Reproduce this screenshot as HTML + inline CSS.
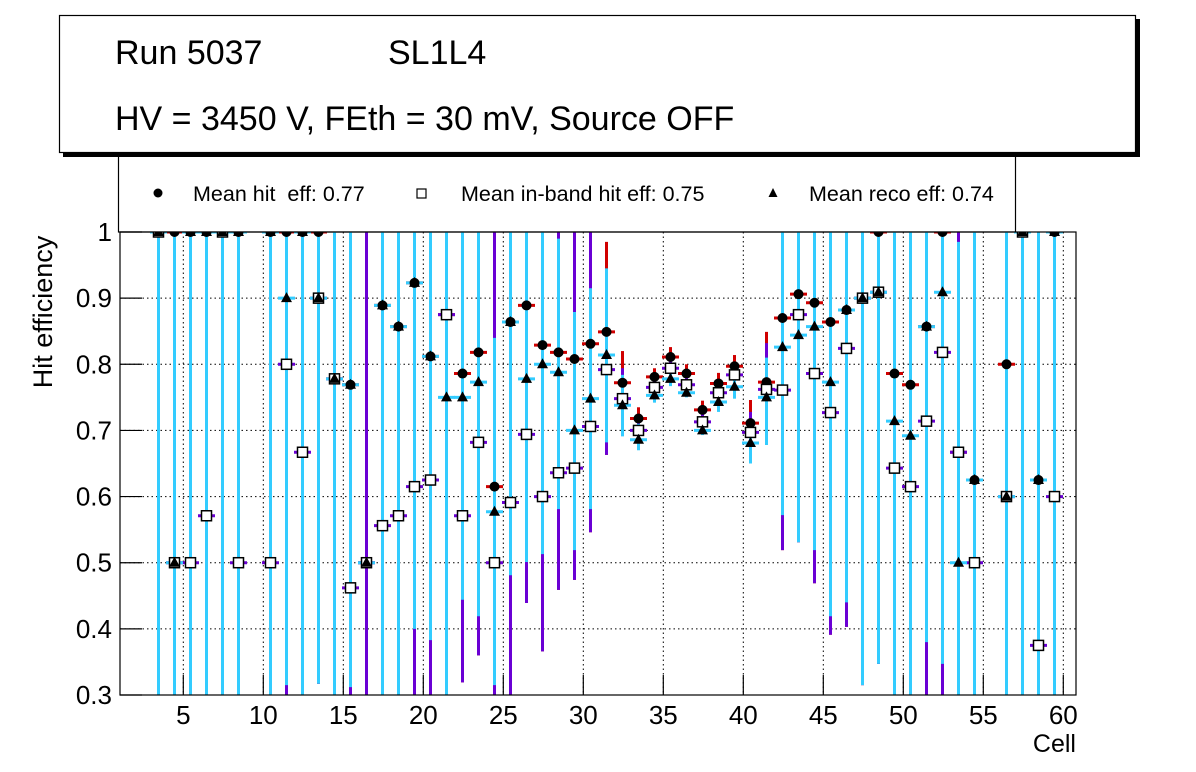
<!DOCTYPE html>
<html><head><meta charset="utf-8"><style>
html,body{margin:0;padding:0;background:#fff;}
svg{display:block;font-family:"Liberation Sans",sans-serif;}
</style></head><body>
<svg id="chart" width="1196" height="772" viewBox="0 0 1196 772" xmlns="http://www.w3.org/2000/svg">
<defs><clipPath id="plotclip"><rect x="120" y="232" width="956" height="463"/></clipPath></defs>
<rect x="0" y="0" width="1196" height="772" fill="#fff"/>
<g id="grid"></g>
<g id="legendbox">
  <rect x="118.5" y="150" width="897" height="82" fill="#fff" stroke="#000" stroke-width="1.2"/>
  <circle cx="158" cy="193" r="4.5" fill="#000"/>
  <text x="193" y="201" font-size="21.5" xml:space="preserve">Mean hit&#160; eff: 0.77</text>
  <rect x="417" y="189" width="9" height="9" fill="#fff" stroke="#000" stroke-width="1.2"/>
  <text x="461" y="201" font-size="21.5">Mean in-band hit eff: 0.75</text>
  <polygon points="773,188 777.5,197 768.5,197" fill="#000"/>
  <text x="809" y="201" font-size="21.5">Mean reco eff: 0.74</text>
</g>
<g id="header">
  <rect x="63" y="19" width="1077" height="138" fill="#000"/>
  <rect x="59.5" y="15.5" width="1076" height="137" fill="#fff" stroke="#000" stroke-width="1.2"/>
  <text x="115" y="64" font-size="34">Run 5037</text>
  <text x="388" y="64" font-size="34">SL1L4</text>
  <text x="115" y="130" font-size="34">HV = 3450 V, FEth = 30 mV, Source OFF</text>
</g>
<g id="bars" clip-path="url(#plotclip)"></g>
<g id="marks" clip-path="url(#plotclip)"></g>
<g id="axes"></g>
<text x="52" y="312" font-size="27" text-anchor="middle" transform="rotate(-90 52 312)">Hit efficiency</text>
<text x="1076" y="752" font-size="25" text-anchor="end">Cell</text>
</svg>
<script>
const cells=[3,4,5,6,7,8,10,11,12,13,14,15,16,17,18,19,20,21,22,23,24,25,26,27,28,29,30,31,32,33,34,35,36,37,38,39,40,41,42,43,44,45,46,47,48,49,50,51,52,53,54,56,57,58,59];
const hitEff=[1,1,1,1,1,1,1,1,1,1,.778,.769,.5,.889,.857,.923,.812,.875,.786,.818,.615,.864,.889,.829,.818,.808,.831,.849,.772,.718,.781,.811,.786,.731,.771,.797,.711,.773,.87,.906,.893,.864,.882,.9,1,.786,.769,.857,1,.667,.625,.8,1,.625,1];
const inbandEff=[1,.5,.5,.571,1,.5,.5,.8,.667,.9,.778,.462,.5,.556,.571,.615,.625,.875,.571,.682,.5,.591,.694,.6,.636,.643,.706,.792,.748,.7,.765,.794,.769,.713,.757,.784,.697,.762,.761,.875,.786,.727,.824,.9,.909,.643,.615,.714,.818,.667,.5,.6,1,.375,.6];
const recoEff=[1,.5,1,1,1,1,1,.9,1,.9,.778,.769,.5,.889,.857,.923,.812,.75,.75,.773,.577,.864,.778,.8,.788,.7,.748,.814,.738,.686,.753,.778,.757,.7,.743,.766,.681,.75,.826,.844,.857,.773,.882,.9,.909,.714,.692,.857,.909,.5,.625,.6,1,.625,1];
const hitLo=[.3,.3,.3,.3,.3,.3,.3,.3,.3,.317,.3,.3,.3,.3,.3,.3,.3,.3,.319,.36,.3,.3,.439,.366,.459,.474,.546,.663,.75,.70,.765,.79,.77,.715,.755,.78,.69,.74,.519,.531,.469,.391,.403,.315,.347,.3,.3,.3,.3,.3,.3,.3,.3,.3,.3];
const hitHi=[1,1,1,1,1,1,1,1,1,1,1,1,1,1,1,1,1,1,1,1,.891,1,1,1,1,1,1,.985,.82,.735,.794,.826,.80,.745,.787,.814,.746,.849,1,1,1,1,1,1,1,1,1,1,1,1,1,1,1,1,1];
const inbandLo=[.3,.3,.3,.3,.3,.3,.3,.3,.3,.317,.3,.3,.3,.3,.3,.3,.3,.3,.319,.36,.3,.3,.439,.366,.459,.474,.546,.663,.72,.68,.75,.78,.755,.70,.74,.77,.67,.70,.519,.531,.469,.391,.403,.315,.347,.3,.3,.3,.3,.3,.3,.3,.3,.3,.3];
const inbandHi=[1,1,1,1,1,1,1,1,1,1,1,1,1,1,1,1,1,1,1,1,1,1,1,1,1,1,1,.93,.794,.72,.776,.81,.785,.73,.775,.80,.728,.832,1,1,1,1,1,1,1,1,1,1,1,1,1,1,1,1,1];
const recoLo=[.3,.3,.3,.3,.3,.3,.3,.315,.3,.317,.3,.312,.5,.3,.3,.40,.383,.3,.444,.419,.315,.481,.501,.513,.581,.519,.581,.682,.691,.67,.742,.767,.75,.693,.728,.748,.65,.678,.572,.531,.519,.419,.44,.315,.347,.3,.3,.38,.347,.3,.3,.3,.3,.3,.3];
const recoHi=[1,1,1,1,1,1,1,1,1,1,1,1,.5,1,1,1,1,1,1,1,.84,1,1,1,.99,.879,.915,.945,.784,.71,.77,.80,.775,.72,.76,.785,.71,.81,1,1,1,1,1,1,1,1,1,1,1,.985,1,1,1,1,1];
const yTicks=[0.3,0.4,0.5,0.6,0.7,0.8,0.9,1];
const yTickLabels=["0.3","0.4","0.5","0.6","0.7","0.8","0.9","1"];
const xTicks=[5,10,15,20,25,30,35,40,45,50,55,60];
const xTickLabels=["5","10","15","20","25","30","35","40","45","50","55","60"];

const NS="http://www.w3.org/2000/svg";
const L=120,R=1076,T=232,B=695;
function xs(v){return 103.3+16*v;}
function ys(v){return T+(1-v)*(B-T)/0.7;}
function cx(c){return xs(c+0.45);}
function mk(tag,attrs,parent){const e=document.createElementNS(NS,tag);for(const k in attrs)e.setAttribute(k,attrs[k]);parent.appendChild(e);return e;}

const grid=document.getElementById('grid');
yTicks.forEach(function(t,i){
  const g=mk('line',{x1:L,x2:R,y1:ys(t),y2:ys(t),stroke:'#000','stroke-width':1,'stroke-dasharray':'1.5,3'},grid);
  
  
});
xTicks.forEach(function(t){
  const g=mk('line',{x1:xs(t),x2:xs(t),y1:T,y2:B,stroke:'#000','stroke-width':1,'stroke-dasharray':'1.5,3'},grid);
  
  
});

const bars=document.getElementById('bars');
function vbar(c,lo,hi,color,name){
  const l=mk('line',{x1:cx(c),x2:cx(c),y1:ys(lo),y2:ys(hi),stroke:color,'stroke-width':3},bars);
  
  
}
function hbar(c,v,color,name){
  if(v<0.3||v>1)return;
  const l=mk('line',{x1:cx(c)-8.5,x2:cx(c)+8.5,y1:ys(v),y2:ys(v),stroke:color,'stroke-width':3},bars);
  
  
}
const RED='#d00000',PUR='#6a00d4',CYAN='#33ccff';
cells.forEach(function(c,i){vbar(c,hitLo[i],hitHi[i],RED,'hit-error-bar');hbar(c,hitEff[i],RED,'hit-x-error');});
cells.forEach(function(c,i){vbar(c,inbandLo[i],inbandHi[i],PUR,'inband-error-bar');hbar(c,inbandEff[i],PUR,'inband-x-error');});
cells.forEach(function(c,i){if(recoHi[i]>recoLo[i])vbar(c,recoLo[i],recoHi[i],CYAN,'reco-error-bar');hbar(c,recoEff[i],CYAN,'reco-x-error');});

const marks=document.getElementById('marks');
cells.forEach(function(c,i){
  const m=mk('circle',{cx:cx(c),cy:ys(hitEff[i]),r:5,fill:'#000'},marks);
  
  
});
cells.forEach(function(c,i){
  const y=ys(inbandEff[i]);
  const m=mk('rect',{x:cx(c)-5,y:y-5,width:10,height:10,fill:'#fff',stroke:'#000','stroke-width':1.5},marks);
  
  
});
cells.forEach(function(c,i){
  const x=cx(c),y=ys(recoEff[i]);
  const m=mk('polygon',{points:(x)+','+(y-6)+' '+(x+5.5)+','+(y+4)+' '+(x-5.5)+','+(y+4),fill:'#000'},marks);
  
  
});

const axes=document.getElementById('axes');
const frame=mk('rect',{x:L,y:T,width:R-L,height:B-T,fill:'none',stroke:'#000','stroke-width':1.2},axes);


yTicks.forEach(function(t,i){
  const tk=mk('line',{x1:L,x2:L+22,y1:ys(t),y2:ys(t),stroke:'#000','stroke-width':1.2},axes);
  
  
  const tx=mk('text',{x:112,y:ys(t)+9,'font-size':26,'text-anchor':'end'},axes);
  tx.textContent=yTickLabels[i];
  
  
});
xTicks.forEach(function(t,i){
  const tk=mk('line',{x1:xs(t),x2:xs(t),y1:B,y2:B-20,stroke:'#000','stroke-width':1.2},axes);
  
  
  const tx=mk('text',{x:xs(t),y:724,'font-size':26,'text-anchor':'middle'},axes);
  tx.textContent=xTickLabels[i];
  
  
});
</script>
</body></html>
